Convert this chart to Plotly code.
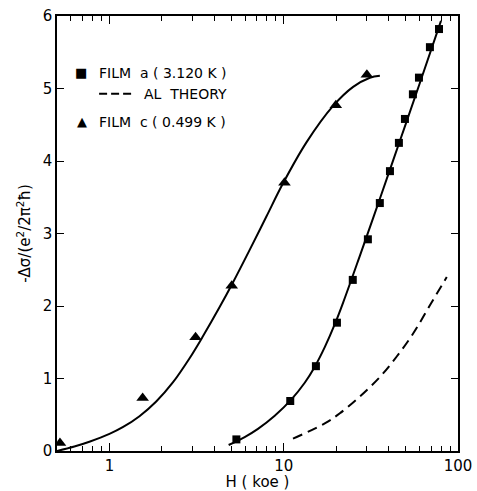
import plotly.graph_objects as go

# Film c (0.499 K) data points
film_c_H = [0.52, 1.55, 3.12, 5.03, 10.1, 19.9, 30.0]
film_c_sig = [0.11, 0.73, 1.57, 2.28, 3.70, 4.77, 5.19]
# Film c fitted curve
film_c_fit_H = [0.50, 0.629, 0.767, 1.0, 1.192, 1.487, 1.855, 2.311, 2.883, 3.438, 4.288, 5.112,
                6.377, 7.954, 9.909, 13.50, 19.20, 25.02, 31.21, 35.62]
film_c_fit_sig = [0.0, 0.062, 0.128, 0.236, 0.328, 0.480, 0.683, 0.946, 1.280, 1.582, 1.985, 2.324,
                  2.774, 3.234, 3.692, 4.257, 4.760, 5.022, 5.149, 5.177]

# Film a (3.120 K) data points
film_a_H = [5.35, 10.9, 15.3, 20.2, 24.9, 30.4, 35.6, 40.7, 45.8, 49.6, 55.1, 59.7, 69.0, 77.8]
film_a_sig = [0.16, 0.69, 1.17, 1.77, 2.36, 2.92, 3.42, 3.86, 4.25, 4.58, 4.92, 5.15, 5.57, 5.82]
# Film a fitted curve
film_a_fit_H = [4.83, 5.97, 7.115, 8.88, 11.07, 13.20, 15.08, 17.20, 19.64, 21.92, 27.34, 35.62, 46.42, 60.48, 79.87]
film_a_fit_sig = [0.083, 0.193, 0.306, 0.487, 0.713, 0.942, 1.163, 1.432, 1.749, 2.047, 2.692, 3.479, 4.279, 5.079, 5.932]

# AL theory
al_H = [11.3, 17.2, 21.0, 27.3, 35.6, 44.4, 55.3, 69.0, 86.2]
al_sig = [0.17, 0.38, 0.52, 0.75, 1.02, 1.30, 1.62, 2.01, 2.40]

x_major = [1, 10, 100]
x_minor = [0.6, 0.7, 0.8, 0.9, 2, 3, 4, 5, 6, 7, 8, 9, 20, 30, 40, 50, 60, 70, 80, 90]
y_ticks = [0, 1, 2, 3, 4, 5, 6]

FONT = "DejaVu Sans"
fig = go.Figure()
fig.add_trace(go.Scatter(x=film_c_fit_H, y=film_c_fit_sig, mode="lines",
                         line=dict(color="black", width=2, shape="spline", smoothing=1), showlegend=False))
fig.add_trace(go.Scatter(x=film_a_fit_H, y=film_a_fit_sig, mode="lines",
                         line=dict(color="black", width=2, shape="spline", smoothing=1), showlegend=False))
fig.add_trace(go.Scatter(x=al_H, y=al_sig, mode="lines",
                         line=dict(color="black", width=2, dash="10px,6px", shape="spline", smoothing=1), showlegend=False))
fig.add_trace(go.Scatter(x=film_c_H, y=film_c_sig, mode="markers",
                         marker=dict(symbol="triangle-up", size=11, color="black"), showlegend=False))
fig.add_trace(go.Scatter(x=film_a_H, y=film_a_sig, mode="markers",
                         marker=dict(symbol="square", size=8, color="black"), showlegend=False))

LEG = 14
ann = [
    dict(x=0.060, y=0.869, text="■", xanchor="center", size=13),
    dict(x=0.100, y=0.869, text="FILM  a ( 3.120 K )", xanchor="left", size=LEG),
    dict(x=0.211, y=0.821, text="AL  THEORY", xanchor="left", size=LEG),
    dict(x=0.062, y=0.758, text="▲", xanchor="center", size=13),
    dict(x=0.100, y=0.756, text="FILM  c ( 0.499 K )", xanchor="left", size=LEG),
]
for a in ann:
    fig.add_annotation(xref="paper", yref="paper", xanchor=a["xanchor"], yanchor="middle",
                       showarrow=False, font=dict(family=FONT, size=a["size"], color="black"),
                       x=a["x"], y=a["y"], text=a["text"].replace("  ", "&nbsp; "))
fig.add_shape(type="line", xref="paper", yref="paper", x0=0.105, x1=0.187, y0=0.821, y1=0.821,
              line=dict(color="black", width=2, dash="8px,4px"))

fig.update_layout(
    width=477, height=491,
    margin=dict(l=57, r=19, t=16, b=40),
    paper_bgcolor="white", plot_bgcolor="white",
    font=dict(family=FONT, size=15, color="black"),
    xaxis=dict(type="log", range=[-0.301, 2], tickvals=x_major, ticktext=["1", "10", "100"],
               ticks="inside", ticklen=8, tickwidth=1, tickcolor="black",
               showline=True, linecolor="black", linewidth=1.5, mirror="ticks",
               showgrid=False, zeroline=False, tickfont=dict(size=15), automargin=False,
               minor=dict(tickvals=x_minor, ticks="inside", ticklen=5, tickcolor="black", showgrid=False),
               title=dict(text="H ( koe )", standoff=2, font=dict(size=15))),
    yaxis=dict(range=[0, 6], tickvals=y_ticks, ticks="inside", ticklen=7, tickcolor="black",
               showline=True, linecolor="black", linewidth=1.5, mirror="ticks",
               showgrid=False, zeroline=False, tickfont=dict(size=15), automargin=False,
               title=dict(text="-Δσ/(e<sup>2</sup>/2π<sup>2</sup>ħ)", standoff=8, font=dict(size=15))),
)
fig.write_html("out.html")
